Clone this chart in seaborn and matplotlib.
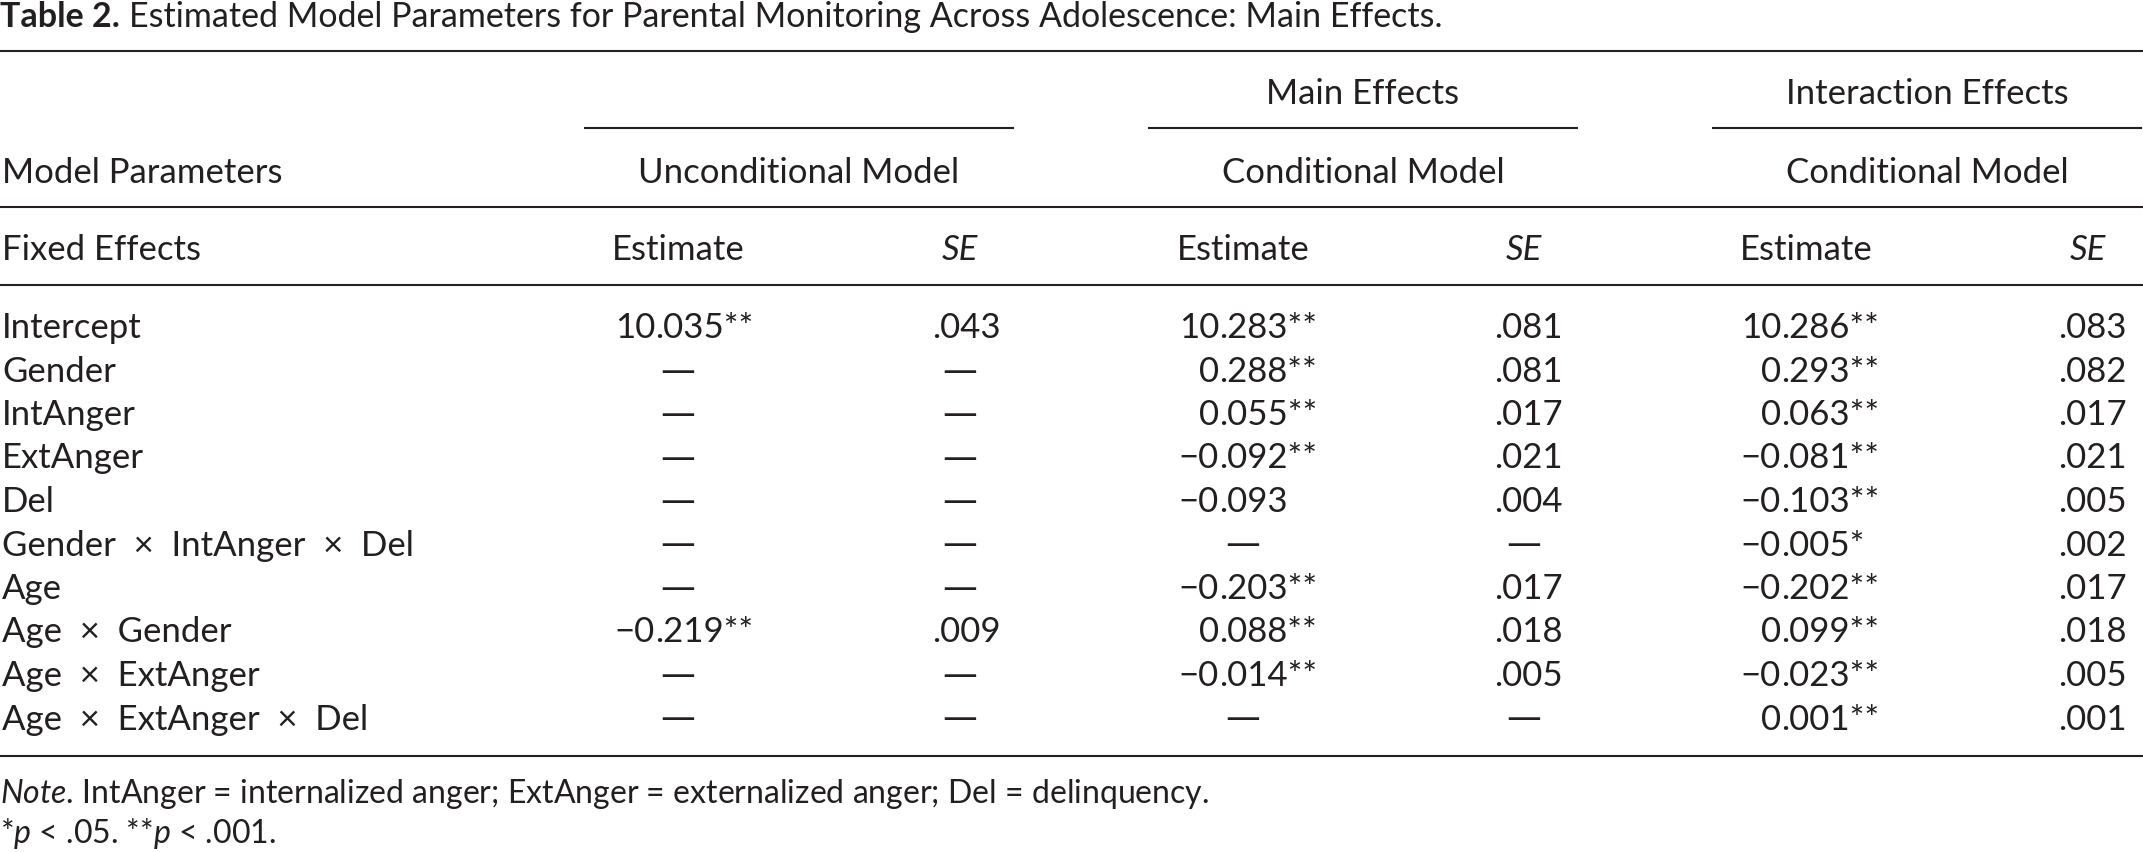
import matplotlib
matplotlib.use("Agg")
import matplotlib.pyplot as plt
import numpy as np
import pandas as pd
import seaborn as sns

# table content
params = ["Intercept", "Gender", "IntAnger", "ExtAnger", "Del",
          "Gender × IntAnger × Del", "Age", "Age × Gender",
          "Age × ExtAnger", "Age × ExtAnger × Del"]

uncond_est = [10.035, None, None, None, None, None, None, -0.219, None, None]
uncond_sig = ["**", "", "", "", "", "", "", "**", "", ""]
uncond_se = [0.043, None, None, None, None, None, None, 0.009, None, None]

main_est = [10.283, 0.288, 0.055, -0.092, -0.093, None, -0.203, 0.088, -0.014, None]
main_sig = ["**", "**", "**", "**", "", "", "**", "**", "**", ""]
main_se = [0.081, 0.081, 0.017, 0.021, 0.004, None, 0.017, 0.018, 0.005, None]

inter_est = [10.286, 0.293, 0.063, -0.081, -0.103, -0.005, -0.202, 0.099, -0.023, 0.001]
inter_sig = ["**", "**", "**", "**", "**", "*", "**", "**", "**", "**"]
inter_se = [0.083, 0.082, 0.017, 0.021, 0.005, 0.002, 0.017, 0.018, 0.005, 0.001]

group_labels = ["", "Main Effects", "Interaction Effects"]
model_labels = ["Unconditional Model", "Conditional Model", "Conditional Model"]

title_bold = "Table 2."
title_rest = "Estimated Model Parameters for Parental Monitoring Across Adolescence: Main Effects."
note = r"$\mathit{Note}$. IntAnger = internalized anger; ExtAnger = externalized anger; Del = delinquency."
footnote = r"*$\mathit{p}$ < .05. **$\mathit{p}$ < .001."

sns.set_theme(style="white")
plt.rcParams["font.family"] = ["Lato", "DejaVu Sans"]
plt.rcParams["mathtext.fontset"] = "custom"
plt.rcParams["mathtext.rm"] = "Lato"
plt.rcParams["mathtext.it"] = "Lato:italic"
plt.rcParams["mathtext.bf"] = "Lato:bold"

INK = "#231f20"
FS = 25
DASH = dict(fontsize=FS, color=INK, ha="center", va="baseline",
            family=["DejaVu Sans"])

df = pd.DataFrame({"param": params})
blocks = [
    (uncond_est, uncond_sig, uncond_se, 678, 655, 960, 932, 799),
    (main_est, main_sig, main_se, 1243, 1219, 1524, 1494, 1363),
    (inter_est, inter_sig, inter_se, 1806, 1781, 2088, 2058, 1927),
]

fig = plt.figure(figsize=(21.43, 8.53), dpi=100)
ax = fig.add_axes([0, 0, 1, 1])
ax.set_xlim(0, 2143)
ax.set_ylim(853, 0)
ax.axis("off")

# title: bold label then regular text
renderer = fig.canvas.get_renderer()
t = ax.text(0, 27, title_bold, fontsize=24.5, color=INK, va="baseline",
            ha="left", fontweight="bold")
x_end = ax.transData.inverted().transform(t.get_window_extent(renderer))[1][0]
ax.text(x_end + 9, 27, title_rest, fontsize=24.5, color=INK, va="baseline", ha="left")

for y in [52, 208, 286, 757]:
    ax.hlines(y, 0, 2143, color=INK, lw=1.5)

row_y = 338 + 43.5 * np.arange(len(params))

ax.text(2, 183, "Model Parameters", fontsize=FS, color=INK, va="baseline")
ax.text(2, 260, "Fixed Effects", fontsize=FS, color=INK, va="baseline")
for lab, y in zip(df["param"], row_y):
    ax.text(2, y, lab.replace(" × ", "  ×  "), fontsize=FS, color=INK, va="baseline")

for (est, sig, se, ec, ed, sc, sd, gc), grp, mod in zip(blocks, group_labels, model_labels):
    ax.hlines(129, gc - 215, gc + 215, color=INK, lw=1.5)
    if grp:
        ax.text(gc, 104, grp, fontsize=FS, color=INK, ha="center", va="baseline")
    ax.text(gc, 183, mod, fontsize=FS, color=INK, ha="center", va="baseline")
    ax.text(ec, 260, "Estimate", fontsize=FS, color=INK, ha="center", va="baseline")
    ax.text(sc, 260, "SE", fontsize=FS, color=INK, ha="center", va="baseline",
            fontstyle="italic")
    for v, s, e, y in zip(est, sig, se, row_y):
        if v is None:
            ax.text(ec, y, "—", **DASH)
        else:
            whole, frac = f"{abs(v):.3f}".split(".")
            sign = "−" if v < 0 else ""
            ax.text(ed, y, sign + whole, fontsize=FS, color=INK, ha="right", va="baseline")
            ax.text(ed, y, "." + frac + s, fontsize=FS, color=INK, ha="left", va="baseline")
        if e is None:
            ax.text(sc, y, "—", **DASH)
        else:
            ax.text(sd, y, f"{e:.3f}"[1:], fontsize=FS, color=INK, ha="left", va="baseline")

ax.text(0, 803, note, fontsize=23, color=INK, va="baseline")
ax.text(0, 843, footnote, fontsize=23, color=INK, va="baseline")

fig.savefig("out.png", dpi=100)
plt.close(fig)
